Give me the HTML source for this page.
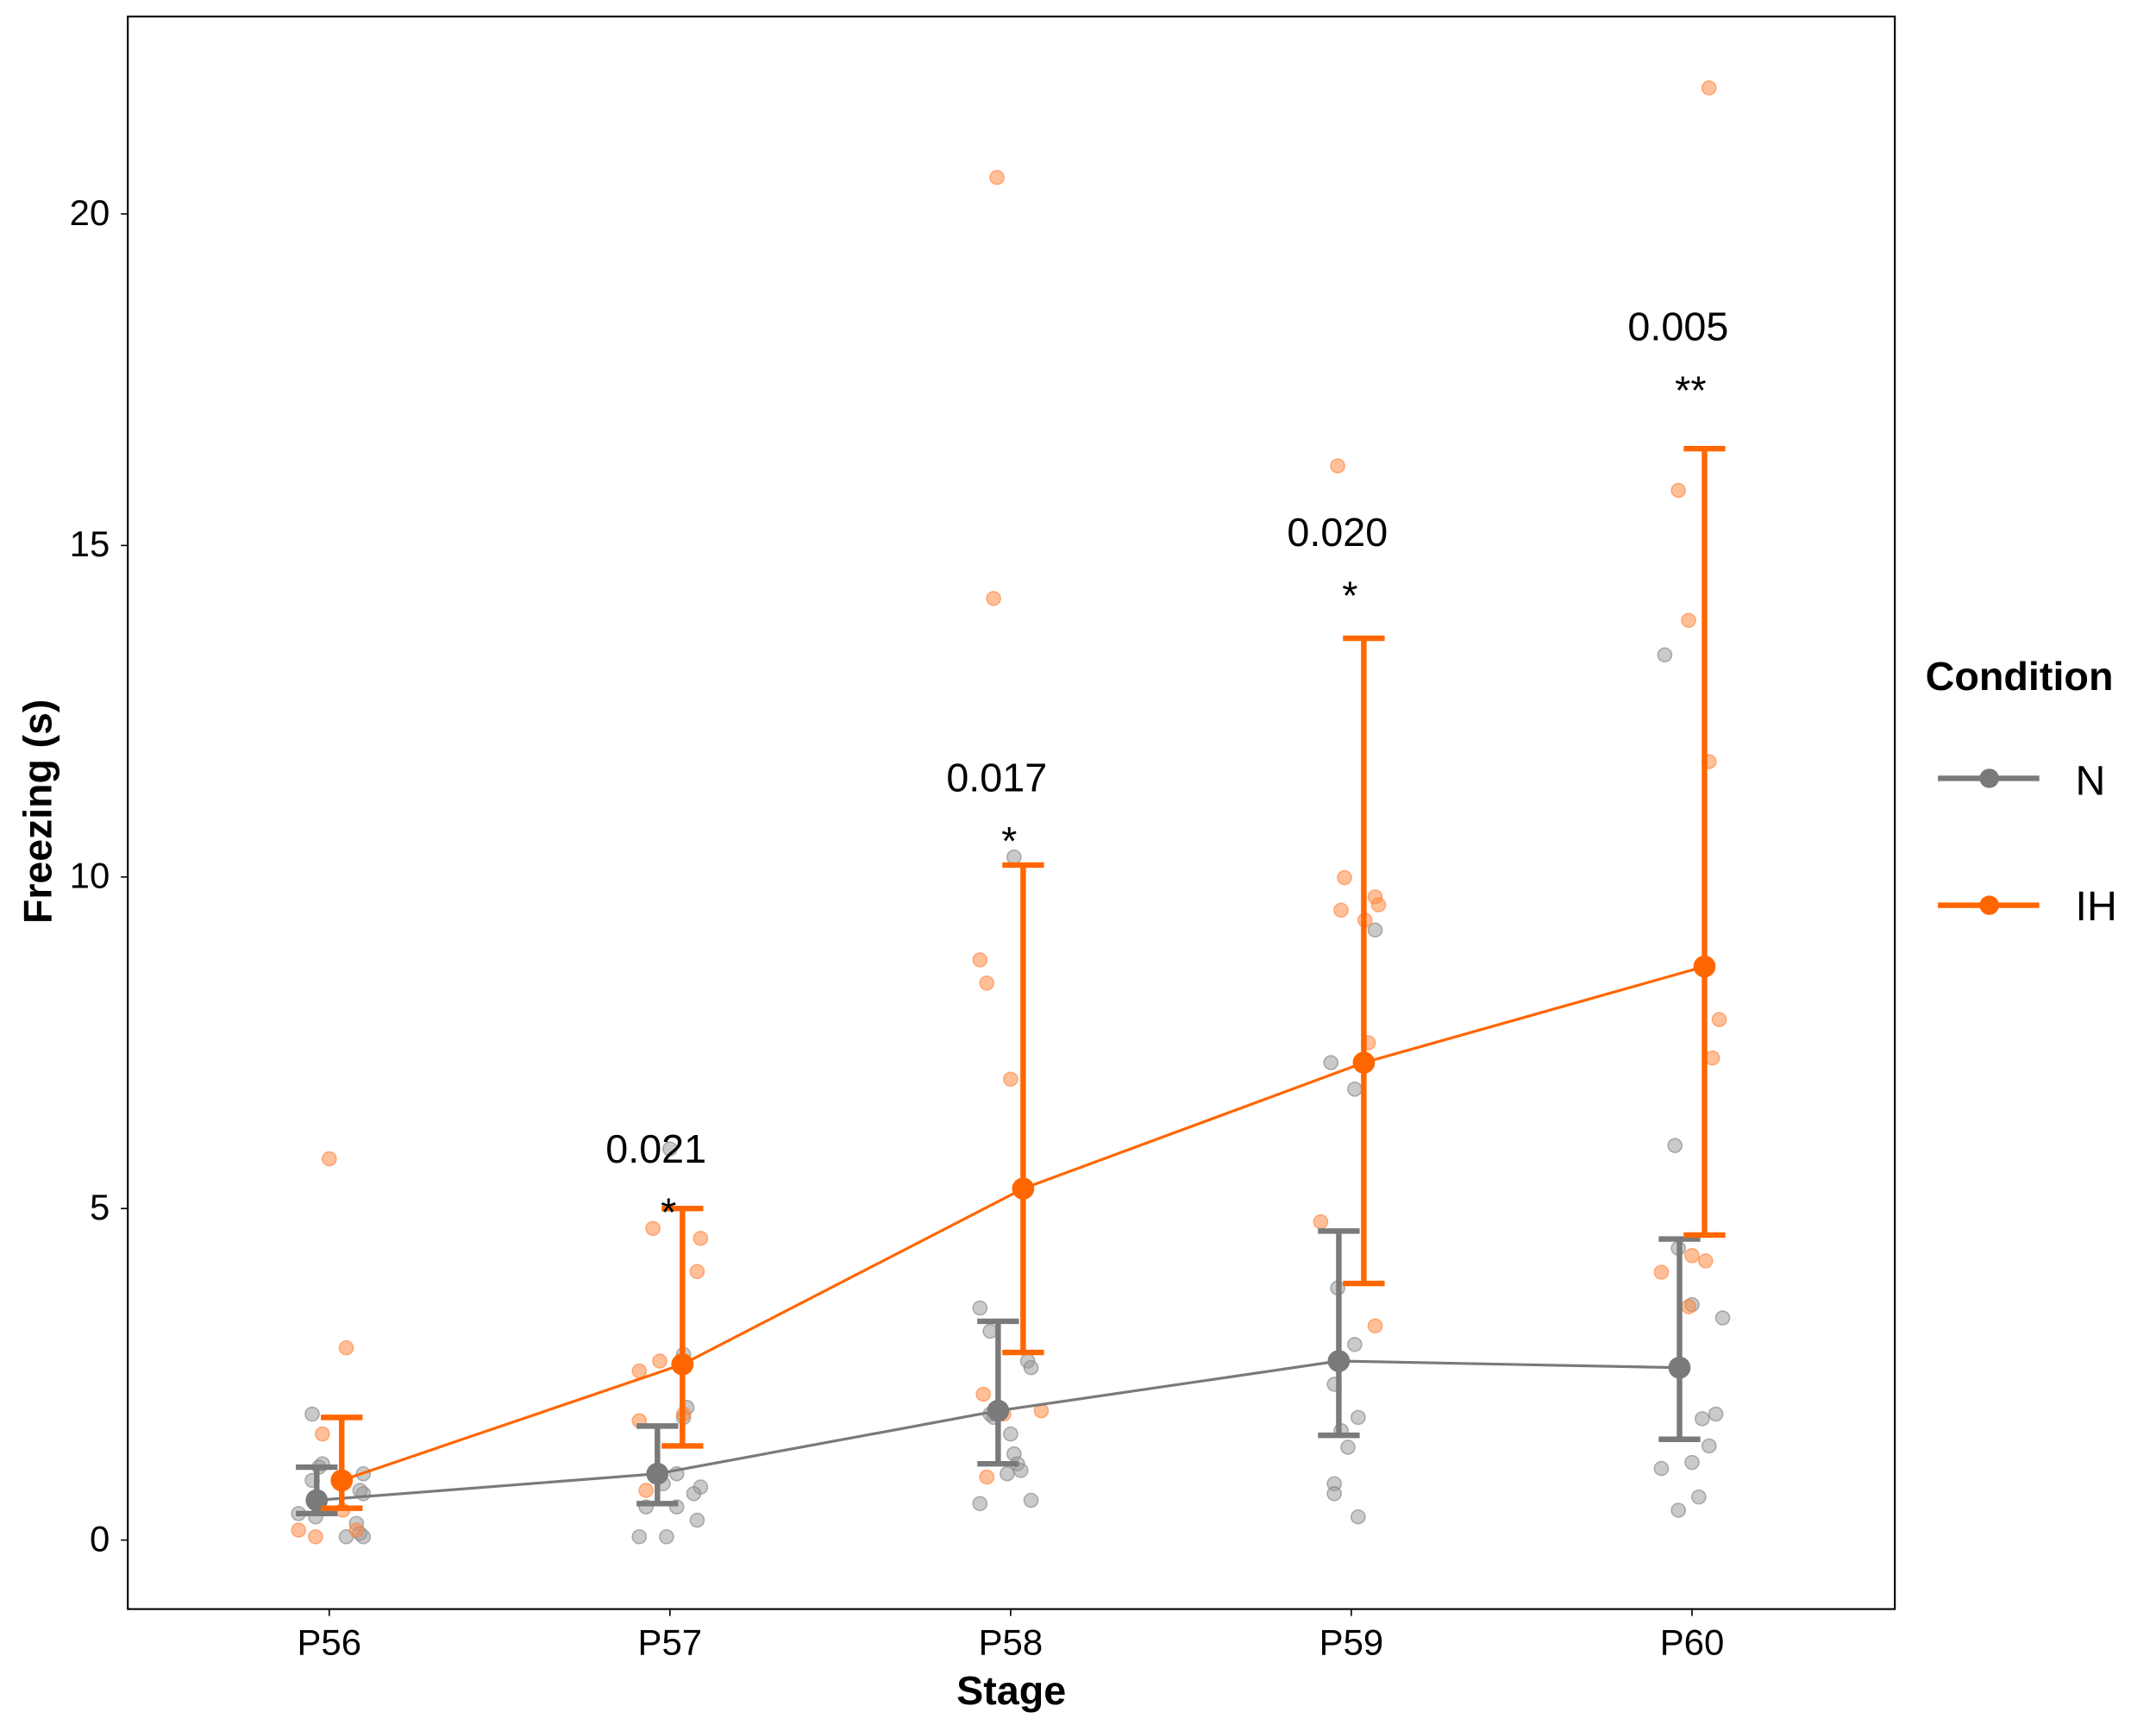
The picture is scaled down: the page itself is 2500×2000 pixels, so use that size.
<!DOCTYPE html>
<html><head><meta charset="utf-8"><style>html,body{margin:0;padding:0;background:#fff}svg{display:block}text{font-family:"Liberation Sans",Arial,sans-serif}</style></head>
<body>
<svg id="chart" width="2500" height="2000" viewBox="0 0 1552 1250" preserveAspectRatio="none" xmlns="http://www.w3.org/2000/svg">
<rect x="0" y="0" width="1552" height="1250" fill="#fff"/>
<rect x="92" y="12" width="1272" height="1154" fill="none" stroke="#000" stroke-width="1.3"/>
<g id="grid"></g><g id="points"></g><g id="lines"></g><g id="anno"></g>
<text transform="translate(37,588) rotate(-90)" text-anchor="middle" font-size="29" font-weight="bold">Freezing (s)</text>
<text x="728" y="1235" text-anchor="middle" font-size="29" font-weight="bold">Stage</text>
<g>
<text x="1386" y="500" font-size="29" font-weight="bold">Condition</text>
<g><line x1="1395" y1="564" x2="1468" y2="564" stroke="#7a7a7a" stroke-width="4"/><circle cx="1432" cy="564" r="7" fill="#7a7a7a"/><text x="1494" y="576" font-size="30">N</text></g>
<g><line x1="1395" y1="656" x2="1468" y2="656" stroke="#ff6600" stroke-width="4"/><circle cx="1432" cy="656" r="7" fill="#ff6600"/><text x="1494" y="667" font-size="30">IH</text></g>
</g>
</svg>
<script>
const categories=["P56","P57","P58","P59","P60"];
const yTicks=[0,5,10,15,20];
const nMean=[0.6,1.0,1.95,2.7,2.6];
const nLow=[0.4,0.55,1.15,1.58,1.52];
const nHigh=[1.1,1.72,3.3,4.66,4.54];
const ihMean=[0.9,2.65,5.3,7.2,8.65];
const ihLow=[0.48,1.42,2.83,3.87,4.6];
const ihHigh=[1.85,5.0,10.18,13.6,16.46];
const pLabels=["","0.021","0.017","0.020","0.005"];
const stars=["","*","*","*","**"];
const pValY=[0,5.9,11.5,15.2,18.3];
// raw points: category index, jitter (category units), value
const nCat=[0,0,0,0,0,0,0,0,0,0,0,0,0,1,1,1,1,1,1,1,1,1,1,1,1,1,2,2,2,2,2,2,2,2,2,2,2,2,2,2,3,3,3,3,3,3,3,3,3,3,3,3,4,4,4,4,4,4,4,4,4,4,4,4];
const nJit=[-0.05,-0.03,-0.05,-0.02,0.10,0.10,0.09,-0.09,-0.04,0.08,0.09,0.05,0.10,0.00,0.04,0.05,0.04,0.09,0.02,-0.02,-0.07,0.02,0.07,0.08,-0.09,-0.01,0.01,-0.09,-0.06,0.05,0.06,-0.05,0.00,0.01,0.02,-0.01,0.03,-0.09,0.06,-0.06,-0.06,0.01,-0.04,0.01,-0.05,0.02,-0.01,-0.05,-0.05,0.02,0.07,-0.03,-0.08,-0.05,-0.04,0.09,0.00,0.07,0.03,0.05,0.00,-0.09,0.02,-0.04];
const nVal=[1.9,1.1,0.9,1.15,1.0,0.7,0.75,0.4,0.35,0.25,0.1,0.05,0.05,5.9,2.8,2.0,1.85,0.8,1.0,0.85,0.5,0.5,0.7,0.3,0.05,0.05,10.3,3.5,3.15,2.7,2.6,1.85,1.6,1.3,1.15,1.0,1.05,0.55,0.6,1.9,7.2,6.8,3.8,2.95,2.35,1.85,1.4,0.85,0.7,0.35,9.2,1.65,13.35,5.95,4.4,3.35,3.55,1.9,1.83,1.42,1.17,1.08,0.65,0.45];
const ihCat=[0,0,0,0,0,0,0,1,1,1,1,1,1,1,1,2,2,2,2,2,2,2,2,2,3,3,3,3,3,3,3,3,3,4,4,4,4,4,4,4,4,4,4];
const ihJit=[0.00,0.05,-0.02,-0.09,-0.04,0.08,0.04,-0.05,0.09,0.08,-0.03,-0.09,-0.09,-0.07,0.04,-0.04,-0.05,-0.09,-0.07,0.00,-0.08,0.09,-0.07,-0.02,-0.04,-0.02,-0.03,0.04,0.07,0.08,0.05,-0.09,0.07,0.05,-0.04,-0.01,0.05,0.08,0.06,-0.09,0.00,0.04,-0.01];
const ihVal=[5.75,2.9,1.6,0.15,0.05,0.15,0.45,4.7,4.55,4.05,2.7,2.55,1.8,0.75,1.9,20.55,14.2,8.75,8.4,6.95,2.2,1.95,0.95,1.9,16.2,9.99,9.5,9.35,9.7,9.58,7.5,4.8,3.23,21.9,15.83,13.87,11.74,7.85,7.27,4.04,4.29,4.21,3.52];

const svg=document.getElementById('chart');
const NS='http://www.w3.org/2000/svg';
const xc=i=>237+i*245.25;
const y=v=>1116-48.05*v;
function mk(tag,attrs,parent){const e=document.createElementNS(NS,tag);for(const k in attrs)e.setAttribute(k,attrs[k]);parent.appendChild(e);return e;}
const grid=document.getElementById('grid');
yTicks.forEach(t=>{
  const tk=mk('line',{x1:87,x2:92,y1:y(t),y2:y(t),stroke:'#000','stroke-width':1},grid);
  
  
  const lb=mk('text',{x:79,y:y(t)+8,'text-anchor':'end','font-size':26},grid);
  lb.textContent=t;
  
  
});
categories.forEach((c,i)=>{
  const tk=mk('line',{x1:xc(i),x2:xc(i),y1:1166,y2:1171,stroke:'#000','stroke-width':1},grid);
  
  
  const lb=mk('text',{x:xc(i),y:1199,'text-anchor':'middle','font-size':26},grid);
  lb.textContent=c;
  
  
});
const pts=document.getElementById('points');
nVal.forEach((v,k)=>{
  const p=mk('circle',{cx:xc(nCat[k])+nJit[k]*245.25,cy:y(v),r:5,fill:'rgba(150,150,150,0.5)',stroke:'rgba(130,130,130,0.6)','stroke-width':1},pts);
  
  
});
ihVal.forEach((v,k)=>{
  const p=mk('circle',{cx:xc(ihCat[k])+ihJit[k]*245.25,cy:y(v),r:5,fill:'rgba(255,140,70,0.55)',stroke:'rgba(255,130,60,0.6)','stroke-width':1},pts);
  
  
});
const lines=document.getElementById('lines');
function series(mean,low,high,off,col,name){
  const d=mean.map((v,i)=>(i?'L':'M')+(xc(i)+off)+','+y(v)).join(' ');
  const ln=mk('path',{d:d,fill:'none',stroke:col,'stroke-width':2},lines);
  
  
  mean.forEach((v,i)=>{
    const x=xc(i)+off;
    const g=mk('g',{},lines);
    
    
    mk('line',{x1:x,x2:x,y1:y(low[i]),y2:y(high[i]),stroke:col,'stroke-width':4},g);
    mk('line',{x1:x-15,x2:x+15,y1:y(low[i]),y2:y(low[i]),stroke:col,'stroke-width':4},g);
    mk('line',{x1:x-15,x2:x+15,y1:y(high[i]),y2:y(high[i]),stroke:col,'stroke-width':4},g);
    const c=mk('circle',{cx:x,cy:y(v),r:8,fill:col},lines);
    
    
  });
}
series(nMean,nLow,nHigh,-9,'#7a7a7a','n');
series(ihMean,ihLow,ihHigh,9,'#ff6600','ih');
const an=document.getElementById('anno');
pLabels.forEach((p,i)=>{
  if(!p)return;
  const t=mk('text',{x:xc(i)-10,y:y(pValY[i])+10,'text-anchor':'middle','font-size':29},an);
  t.textContent=p;
  
  
  const s=mk('text',{x:xc(i)-1,y:y(pValY[i])+56,'text-anchor':'middle','font-size':29},an);
  s.textContent=stars[i];
  
  
});
</script>
</body></html>
